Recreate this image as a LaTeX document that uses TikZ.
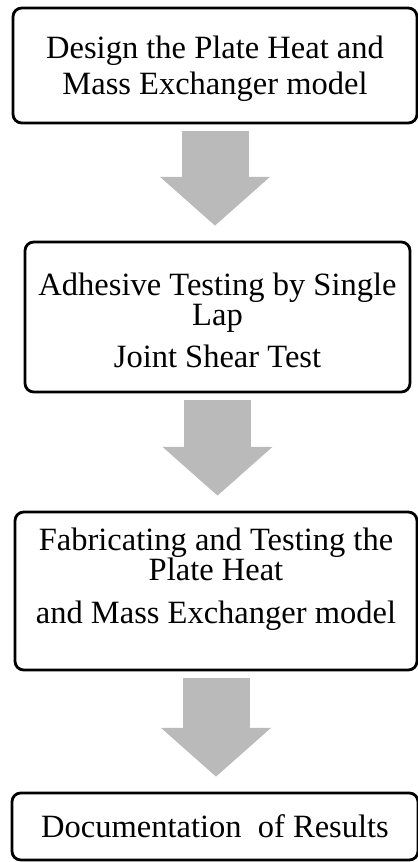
\documentclass[tikz,border=0pt]{standalone}
\usepackage{fontspec}
\setmainfont{Liberation Serif}
\usetikzlibrary{arrows.meta}

\begin{document}
\begin{tikzpicture}[
	stagebox/.style={draw=black, line width=3.2pt, rounded corners=3.5mm, align=center, inner sep=0pt, font=\fontsize{37}{41}\selectfont},
	flowarrow/.style={draw=black!27, line width=2.68cm, -{Triangle[width=4.4cm, length=1.95cm, line width=0pt]}, shorten <=0.28cm, shorten >=0.6cm}
]
\useasboundingbox (0,0) rectangle (16.72,-34.48);

% Stages of the work, from top to bottom.
\node[stagebox, minimum width=16.16cm, minimum height=4.6cm, text height=67pt, text depth=0pt] (design) at (8.6,-2.62) {Design the Plate Heat and\\Mass Exchanger model};
\node[stagebox, minimum width=15.4cm, minimum height=6.0cm, text height=114pt, text depth=0pt] (adhesive) at (8.7,-12.68) {Adhesive Testing by Single\\[-6pt]Lap\\[6pt]Joint Shear Test};
\node[stagebox, minimum width=16.08cm, minimum height=6.32cm, text height=73pt, text depth=0pt] (fabricate) at (8.64,-23.64) {Fabricating and Testing the\\[-6pt]Plate Heat\\[7pt]and Mass Exchanger model};
\node[stagebox, minimum width=16.24cm, minimum height=2.68cm] (results) at (8.6,-33.06) {Documentation\ \ of Results};

% Block arrows between the stages.
\draw[flowarrow] (design.south) -- (design.south |- adhesive.north);
\draw[flowarrow] (adhesive.south) -- (adhesive.south |- fabricate.north);
\draw[flowarrow] (fabricate.south) -- (fabricate.south |- results.north);

\end{tikzpicture}
\end{document}
